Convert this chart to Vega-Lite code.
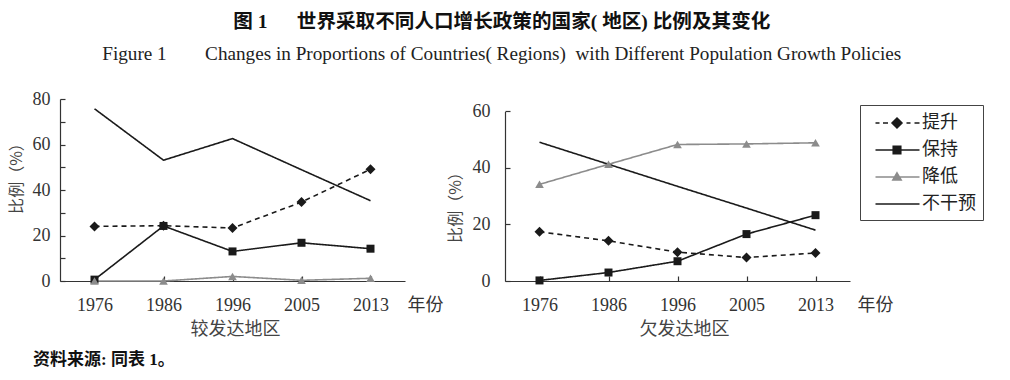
{
  "$schema": "https://vega.github.io/schema/vega-lite/v6.json",
  "background": "white",
  "padding": {"left": 8, "top": 12, "right": 5, "bottom": 5},
  "data": {"values": [
    {"panel": "L", "series": "提升", "year": "1976", "value": 24.0},
    {"panel": "L", "series": "提升", "year": "1986", "value": 24.3},
    {"panel": "L", "series": "提升", "year": "1996", "value": 23.3},
    {"panel": "L", "series": "提升", "year": "2005", "value": 34.7},
    {"panel": "L", "series": "提升", "year": "2013", "value": 49.1},
    {"panel": "L", "series": "保持", "year": "1976", "value": 0.6},
    {"panel": "L", "series": "保持", "year": "1986", "value": 24.2},
    {"panel": "L", "series": "保持", "year": "1996", "value": 13.0},
    {"panel": "L", "series": "保持", "year": "2005", "value": 16.8},
    {"panel": "L", "series": "保持", "year": "2013", "value": 14.2},
    {"panel": "L", "series": "降低", "year": "1976", "value": 0},
    {"panel": "L", "series": "降低", "year": "1986", "value": 0},
    {"panel": "L", "series": "降低", "year": "1996", "value": 2.0},
    {"panel": "L", "series": "降低", "year": "2005", "value": 0.3},
    {"panel": "L", "series": "降低", "year": "2013", "value": 1.2},
    {"panel": "L", "series": "不干预", "year": "1976", "value": 75.7},
    {"panel": "L", "series": "不干预", "year": "1986", "value": 53.1},
    {"panel": "L", "series": "不干预", "year": "1996", "value": 62.6},
    {"panel": "L", "series": "不干预", "year": "2005", "value": 48.9},
    {"panel": "L", "series": "不干预", "year": "2013", "value": 35.3},
    {"panel": "R", "series": "提升", "year": "1976", "value": 17.4},
    {"panel": "R", "series": "提升", "year": "1986", "value": 14.2},
    {"panel": "R", "series": "提升", "year": "1996", "value": 10.2},
    {"panel": "R", "series": "提升", "year": "2005", "value": 8.3},
    {"panel": "R", "series": "提升", "year": "2013", "value": 9.9},
    {"panel": "R", "series": "保持", "year": "1976", "value": 0.2},
    {"panel": "R", "series": "保持", "year": "1986", "value": 3.0},
    {"panel": "R", "series": "保持", "year": "1996", "value": 7.0},
    {"panel": "R", "series": "保持", "year": "2005", "value": 16.6},
    {"panel": "R", "series": "保持", "year": "2013", "value": 23.3},
    {"panel": "R", "series": "降低", "year": "1976", "value": 34.2},
    {"panel": "R", "series": "降低", "year": "1986", "value": 41.3},
    {"panel": "R", "series": "降低", "year": "1996", "value": 48.3},
    {"panel": "R", "series": "降低", "year": "2005", "value": 48.5},
    {"panel": "R", "series": "降低", "year": "2013", "value": 48.9},
    {"panel": "R", "series": "不干预", "year": "1976", "value": 49.1},
    {"panel": "R", "series": "不干预", "year": "1986", "value": 41.3},
    {"panel": "R", "series": "不干预", "year": "1996", "value": 33.5},
    {"panel": "R", "series": "不干预", "year": "2005", "value": 25.8},
    {"panel": "R", "series": "不干预", "year": "2013", "value": 18.0}
  ]},
  "title": {
    "text": "图 1\u2003\u2002世界采取不同人口增长政策的国家( 地区) 比例及其变化",
    "subtitle": "Figure 1\u2003\u2003Changes in Proportions of Countries( Regions)\u00a0 with Different Population Growth Policies",
    "anchor": "middle",
    "font": "Liberation Serif, Noto Sans CJK SC",
    "fontSize": 19.6,
    "fontWeight": "bold",
    "color": "#111111",
    "subtitleFont": "Liberation Serif",
    "subtitleFontSize": 19.2,
    "subtitleColor": "#222222",
    "subtitlePadding": 12,
    "offset": 25,
    "dx": 6
  },
  "config": {
    "view": {"stroke": null},
    "axis": {
      "grid": false,
      "domainColor": "#333333",
      "domainWidth": 1.2,
      "tickColor": "#333333",
      "tickWidth": 1.2,
      "labelFont": "Liberation Serif",
      "labelFontSize": 18,
      "labelColor": "#333333",
      "titleFont": "Noto Sans CJK SC",
      "titleFontSize": 16,
      "titleFontWeight": "normal",
      "titleColor": "#444444"
    },
    "axisX": {"tickSize": -5, "labelPadding": 20, "labelAngle": 0},
    "axisY": {"tickSize": -5}
  },
  "vconcat": [{
    "title": {"text": "资料来源: 同表 1。", "orient": "bottom", "anchor": "start", "font": "Liberation Serif, Noto Sans CJK SC", "fontSize": 17, "fontWeight": "bold", "color": "#111111", "offset": 13, "dx": 25},
    "bounds": "flush",
    "spacing": 100,
    "resolve": {"scale": {"fill": "independent", "stroke": "independent", "shape": "independent", "color": "independent", "strokeDash": "independent"}},
    "hconcat": [
      {
        "width": 345,
        "height": 182,
        "title": {"text": "较发达地区", "orient": "bottom", "anchor": "middle", "frame": "group", "offset": 7, "dx": 3, "font": "Noto Sans CJK SC", "fontSize": 18, "fontWeight": "normal", "color": "#444444"},
        "transform": [{"filter": "datum.panel === 'L'"}],
        "encoding": {
          "x": {"field": "year", "type": "ordinal", "scale": {"type": "point", "padding": 0.5},
                "axis": {"title": "年份", "titleX": 347, "titleY": 24, "titleAlign": "left", "titleBaseline": "middle", "titleAngle": 0, "titleFontSize": 18, "titleColor": "#333333"}},
          "y": {"field": "value", "type": "quantitative", "scale": {"domain": [0, 80], "nice": false},
                "axis": {"values": [0, 10, 20, 30, 40, 50, 60, 70, 80], "labelExpr": "datum.value % 20 === 0 ? datum.label : ''", "labelPadding": 15,
                         "title": "比例（%）", "titleX": -44, "titleY": 75, "titleAngle": 270, "titleAlign": "center", "titleBaseline": "middle"}}
        },
        "layer": [
          {"mark": {"type": "line", "strokeWidth": 1.6},
           "encoding": {
             "color": {"field": "series", "type": "nominal", "scale": {"domain": ["不干预", "降低", "保持", "提升"], "range": ["#1a1a1a", "#8c8c8c", "#1a1a1a", "#1a1a1a"]}, "legend": null},
             "strokeDash": {"field": "series", "type": "nominal", "scale": {"domain": ["不干预", "降低", "保持", "提升"], "range": [[1, 0], [1, 0], [1, 0], [5, 4]]}, "legend": null}
           }},
          {"transform": [{"filter": "datum.series === '提升'"}], "mark": {"type": "point", "shape": "diamond", "filled": true, "size": 100, "color": "#1a1a1a", "opacity": 1}},
          {"transform": [{"filter": "datum.series === '保持'"}], "mark": {"type": "point", "shape": "square", "filled": true, "size": 64, "color": "#1a1a1a", "opacity": 1}},
          {"transform": [{"filter": "datum.series === '降低'"}], "mark": {"type": "point", "shape": "triangle-up", "filled": true, "size": 75, "color": "#8c8c8c", "opacity": 1}}
        ]
      },
      {
        "width": 345,
        "height": 182,
        "title": {"text": "欠发达地区", "orient": "bottom", "anchor": "middle", "frame": "group", "offset": 7, "dx": 7, "font": "Noto Sans CJK SC", "fontSize": 18, "fontWeight": "normal", "color": "#444444"},
        "transform": [{"filter": "datum.panel === 'R'"}],
        "encoding": {
          "x": {"field": "year", "type": "ordinal", "scale": {"type": "point", "padding": 0.5},
                "axis": {"title": "年份", "titleX": 352, "titleY": 24, "titleAlign": "left", "titleBaseline": "middle", "titleAngle": 0, "titleFontSize": 18, "titleColor": "#333333"}},
          "y": {"field": "value", "type": "quantitative", "scale": {"domain": [0, 64.4], "nice": false},
                "axis": {"values": [0, 20, 40, 60], "domainDash": [169.6, 60], "labelPadding": 20,
                         "title": "比例（%）", "titleX": -50, "titleY": 104, "titleAngle": 270, "titleAlign": "center", "titleBaseline": "middle"}}
        },
        "layer": [
          {"mark": {"type": "line", "strokeWidth": 1.6},
           "encoding": {
             "color": {"field": "series", "type": "nominal", "scale": {"domain": ["不干预", "降低", "保持", "提升"], "range": ["#1a1a1a", "#8c8c8c", "#1a1a1a", "#1a1a1a"]}, "legend": null},
             "strokeDash": {"field": "series", "type": "nominal", "scale": {"domain": ["不干预", "降低", "保持", "提升"], "range": [[1, 0], [1, 0], [1, 0], [5, 4]]}, "legend": null}
           }},
          {"transform": [{"filter": "datum.series === '提升'"}], "mark": {"type": "point", "shape": "diamond", "filled": true, "size": 100, "color": "#1a1a1a", "opacity": 1}},
          {"transform": [{"filter": "datum.series === '保持'"}], "mark": {"type": "point", "shape": "square", "filled": true, "size": 64, "color": "#1a1a1a", "opacity": 1}},
          {"transform": [{"filter": "datum.series === '降低'"}], "mark": {"type": "point", "shape": "triangle-up", "filled": true, "size": 75, "color": "#8c8c8c", "opacity": 1}},
          {"transform": [{"filter": "false"}],
           "mark": {"type": "point", "filled": true, "size": 400, "opacity": 1},
           "encoding": {
             "shape": {"field": "series", "type": "nominal",
                       "scale": {"domain": ["提升", "保持", "降低", "不干预"], "range": [
                         "M-0.25,0H0.15M0.5,0H1M2.85,0H3.25M3.65,0H4.15M1.9,-0.5L2.4,0L1.9,0.5L1.4,0Z",
                         "M-0.25,0H4.15M1.52,-0.38H2.28V0.38H1.52Z",
                         "M-0.25,0H4.15M1.9,-0.42L2.32,0.3H1.48Z",
                         "M-0.25,0H4.15"]},
                       "legend": {"title": null, "orient": "none", "legendX": 355, "legendY": 6, "padding": 7, "strokeColor": "#444444", "fillColor": "#ffffff", "symbolSize": 400, "symbolStrokeWidth": 1.5, "symbolOpacity": 1, "labelFont": "Noto Sans CJK SC", "labelFontSize": 18, "labelColor": "#222222", "labelOffset": 33, "rowPadding": 7}},
             "fill": {"field": "series", "type": "nominal",
                      "scale": {"domain": ["提升", "保持", "降低", "不干预"], "range": ["#1a1a1a", "#1a1a1a", "#8c8c8c", "#1a1a1a"]},
                      "legend": {"title": null, "orient": "none", "legendX": 355, "legendY": 6, "padding": 7, "strokeColor": "#444444", "fillColor": "#ffffff", "symbolSize": 400, "symbolStrokeWidth": 1.5, "symbolOpacity": 1, "labelFont": "Noto Sans CJK SC", "labelFontSize": 18, "labelColor": "#222222", "labelOffset": 33, "rowPadding": 7}},
             "stroke": {"field": "series", "type": "nominal",
                        "scale": {"domain": ["提升", "保持", "降低", "不干预"], "range": ["#1a1a1a", "#1a1a1a", "#8c8c8c", "#1a1a1a"]},
                        "legend": {"title": null, "orient": "none", "legendX": 355, "legendY": 6, "padding": 7, "strokeColor": "#444444", "fillColor": "#ffffff", "symbolSize": 400, "symbolStrokeWidth": 1.5, "symbolOpacity": 1, "labelFont": "Noto Sans CJK SC", "labelFontSize": 18, "labelColor": "#222222", "labelOffset": 33, "rowPadding": 7}}
           }}
        ]
      }
    ]
  }]
}
